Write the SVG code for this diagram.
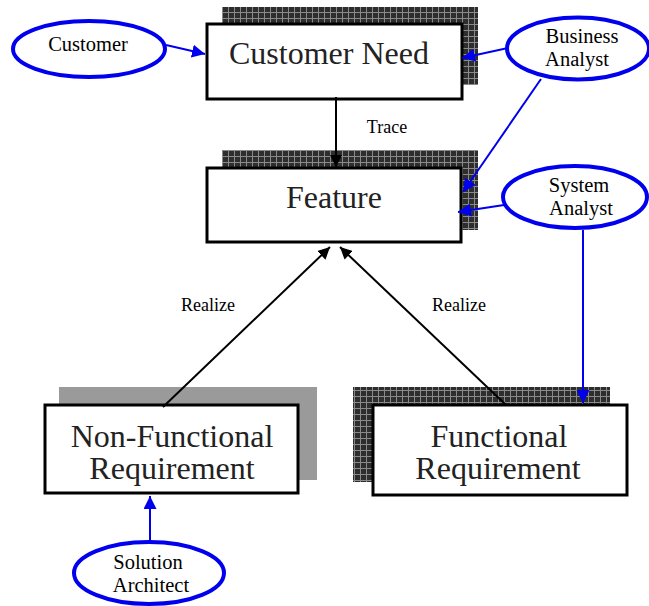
<svg xmlns="http://www.w3.org/2000/svg" width="649" height="606" viewBox="0 0 649 606">
  <defs>
    <pattern id="grid" width="6" height="6" patternUnits="userSpaceOnUse">
      <rect width="6" height="6" fill="#2e2e2e"/>
      <path d="M0 0.5H6M0.5 0V6" stroke="#8a8a8a" stroke-width="1"/>
    </pattern>
    <marker id="ah-black" viewBox="0 0 12 12" refX="12" refY="6" markerWidth="12" markerHeight="12" markerUnits="userSpaceOnUse" orient="auto">
      <path d="M0 0L12 6L0 12Z" fill="#000"/>
    </marker>
    <marker id="ah-blue" viewBox="0 0 12 12" refX="12" refY="6" markerWidth="13" markerHeight="13" markerUnits="userSpaceOnUse" orient="auto">
      <path d="M0 0L12 6L0 12Z" fill="#0000ee"/>
    </marker>
  </defs>
  <style>
    .box { fill: #fff; stroke: #000; stroke-width: 3; }
    .shadow-dark { fill: url(#grid); }
    .shadow-light { fill: #9a9a9a; }
    .boxtext { font-family: "Liberation Serif", "Times New Roman", serif; font-size: 32px; fill: #222; text-anchor: middle; }
    .actor { fill: #fff; stroke: #0000ee; stroke-width: 4; }
    .actortext { font-family: "Liberation Serif", "Times New Roman", serif; font-size: 20.5px; fill: #000; text-anchor: middle; }
    .label { font-family: "Liberation Serif", "Times New Roman", serif; font-size: 18px; fill: #000; text-anchor: middle; }
    .link { fill: none; stroke: #000; stroke-width: 2; marker-end: url(#ah-black); }
    .assoc { fill: none; stroke: #0000ee; stroke-width: 2; marker-end: url(#ah-blue); }
  </style>

  <!-- requirement boxes with their drop shadows -->
  <g id="customer-need">
    <rect class="shadow-dark" x="222" y="7" width="256" height="78"/>
    <rect class="box" x="207" y="24" width="255" height="75"/>
    <text class="boxtext" x="329" y="64">Customer Need</text>
  </g>
  <g id="feature">
    <rect class="shadow-dark" x="222" y="150" width="256" height="80"/>
    <rect class="box" x="207" y="168" width="254" height="74"/>
    <text class="boxtext" x="334" y="208">Feature</text>
  </g>
  <g id="non-functional">
    <rect class="shadow-light" x="59" y="387" width="258" height="93"/>
    <rect class="box" x="45" y="405" width="253" height="88"/>
    <text class="boxtext" x="172" y="447">Non-Functional</text>
    <text class="boxtext" x="172" y="479">Requirement</text>
  </g>
  <g id="functional">
    <rect class="shadow-dark" x="353" y="387" width="257" height="95"/>
    <rect class="box" x="373" y="405" width="254" height="90"/>
    <text class="boxtext" x="499" y="447">Functional</text>
    <text class="boxtext" x="498" y="479">Requirement</text>
  </g>

  <!-- connectors -->
  <g id="connectors">
    <line class="link" x1="336" y1="97" x2="336" y2="167"/>
    <text class="label" x="387" y="133">Trace</text>
    <line class="link" x1="163" y1="407" x2="330" y2="247"/>
    <text class="label" x="208" y="311">Realize</text>
    <line class="link" x1="506" y1="405" x2="340" y2="247"/>
    <text class="label" x="459" y="311">Realize</text>
    <line class="assoc" x1="166" y1="45" x2="205" y2="54"/>
    <line class="assoc" x1="508" y1="48" x2="462" y2="58"/>
    <line class="assoc" x1="541" y1="79" x2="463" y2="192"/>
    <line class="assoc" x1="504" y1="205" x2="458" y2="212"/>
    <line class="assoc" x1="583" y1="230" x2="583" y2="403"/>
    <line class="assoc" x1="150" y1="542" x2="150" y2="496"/>
  </g>

  <!-- actors -->
  <g id="customer">
    <ellipse class="actor" cx="89" cy="49" rx="76" ry="28"/>
    <text class="actortext" x="88" y="51">Customer</text>
  </g>
  <g id="business-analyst">
    <ellipse class="actor" cx="578" cy="48.5" rx="71" ry="31"/>
    <text class="actortext" x="582" y="43">Business</text>
    <text class="actortext" x="577" y="66">Analyst</text>
  </g>
  <g id="system-analyst">
    <ellipse class="actor" cx="575" cy="197" rx="72" ry="31"/>
    <text class="actortext" x="579" y="192">System</text>
    <text class="actortext" x="581" y="215">Analyst</text>
  </g>
  <g id="solution-architect">
    <ellipse class="actor" cx="149" cy="573" rx="75" ry="31"/>
    <text class="actortext" x="148" y="569">Solution</text>
    <text class="actortext" x="151" y="592">Architect</text>
  </g>
</svg>
